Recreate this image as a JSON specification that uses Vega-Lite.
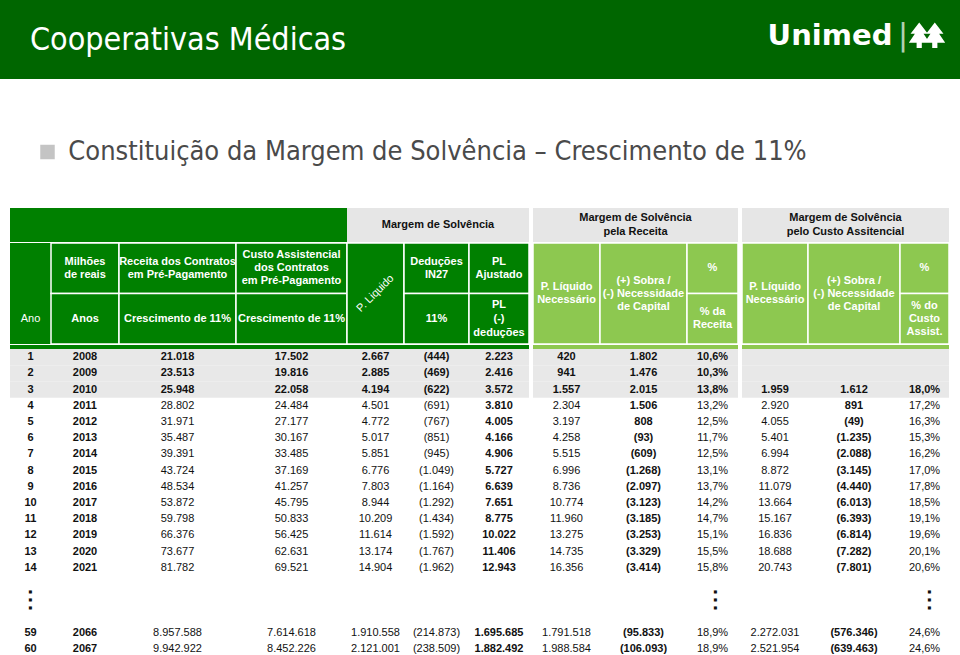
{
"$schema":"https://vega.github.io/schema/vega-lite/v6.json",
"padding":0,
"spacing":0,
"config":{
 "view":{"stroke":null},
 "axis":{"disable":true},
 "concat":{"spacing":0},
 "text":{"font":"Liberation Sans","fontSize":11,"baseline":"middle"},
 "locale":{"number":{"decimal":",","thousands":".","grouping":[3],"currency":["R$ ",""]}}
},
"datasets":{
 "one":[{"u":1}],
 "bc":[{"p":"B"},{"p":"C"}],
 "rows":[
  {"n":"1","ano":"2008","rec":21018,"cus":17502,"pliq":2667,"ded":-444,"pl":2223,"pln":420,"sob":1802,"pr":0.106},
  {"n":"2","ano":"2009","rec":23513,"cus":19816,"pliq":2885,"ded":-469,"pl":2416,"pln":941,"sob":1476,"pr":0.103},
  {"n":"3","ano":"2010","rec":25948,"cus":22058,"pliq":4194,"ded":-622,"pl":3572,"pln":1557,"sob":2015,"pr":0.138,"pln2":1959,"sob2":1612,"pc":0.180},
  {"n":"4","ano":"2011","rec":28802,"cus":24484,"pliq":4501,"ded":-691,"pl":3810,"pln":2304,"sob":1506,"pr":0.132,"pln2":2920,"sob2":891,"pc":0.172},
  {"n":"5","ano":"2012","rec":31971,"cus":27177,"pliq":4772,"ded":-767,"pl":4005,"pln":3197,"sob":808,"pr":0.125,"pln2":4055,"sob2":-49,"pc":0.163},
  {"n":"6","ano":"2013","rec":35487,"cus":30167,"pliq":5017,"ded":-851,"pl":4166,"pln":4258,"sob":-93,"pr":0.117,"pln2":5401,"sob2":-1235,"pc":0.153},
  {"n":"7","ano":"2014","rec":39391,"cus":33485,"pliq":5851,"ded":-945,"pl":4906,"pln":5515,"sob":-609,"pr":0.125,"pln2":6994,"sob2":-2088,"pc":0.162},
  {"n":"8","ano":"2015","rec":43724,"cus":37169,"pliq":6776,"ded":-1049,"pl":5727,"pln":6996,"sob":-1268,"pr":0.131,"pln2":8872,"sob2":-3145,"pc":0.170},
  {"n":"9","ano":"2016","rec":48534,"cus":41257,"pliq":7803,"ded":-1164,"pl":6639,"pln":8736,"sob":-2097,"pr":0.137,"pln2":11079,"sob2":-4440,"pc":0.178},
  {"n":"10","ano":"2017","rec":53872,"cus":45795,"pliq":8944,"ded":-1292,"pl":7651,"pln":10774,"sob":-3123,"pr":0.142,"pln2":13664,"sob2":-6013,"pc":0.185},
  {"n":"11","ano":"2018","rec":59798,"cus":50833,"pliq":10209,"ded":-1434,"pl":8775,"pln":11960,"sob":-3185,"pr":0.147,"pln2":15167,"sob2":-6393,"pc":0.191},
  {"n":"12","ano":"2019","rec":66376,"cus":56425,"pliq":11614,"ded":-1592,"pl":10022,"pln":13275,"sob":-3253,"pr":0.151,"pln2":16836,"sob2":-6814,"pc":0.196},
  {"n":"13","ano":"2020","rec":73677,"cus":62631,"pliq":13174,"ded":-1767,"pl":11406,"pln":14735,"sob":-3329,"pr":0.155,"pln2":18688,"sob2":-7282,"pc":0.201},
  {"n":"14","ano":"2021","rec":81782,"cus":69521,"pliq":14904,"ded":-1962,"pl":12943,"pln":16356,"sob":-3414,"pr":0.158,"pln2":20743,"sob2":-7801,"pc":0.206},
  {"n":"59","ano":"2066","rec":8957588,"cus":7614618,"pliq":1910558,"ded":-214873,"pl":1695685,"pln":1791518,"sob":-95833,"pr":0.189,"pln2":2272031,"sob2":-576346,"pc":0.246},
  {"n":"60","ano":"2067","rec":9942922,"cus":8452226,"pliq":2121001,"ded":-238509,"pl":1882492,"pln":1988584,"sob":-106093,"pr":0.189,"pln2":2521954,"sob2":-639463,"pc":0.246}
 ]
},
"vconcat":[
 {"spacing":0,"bounds":"flush","hconcat":[
  {"width":376,"height":79,"data":{"name":"one"},"layer":[
   {"mark":{"type":"rect","fill":"#006600"},"encoding":{}},
   {"mark":{"type":"text","text":"Cooperativas Médicas","fill":"white","font":"DejaVu Sans Condensed, Liberation Sans Narrow, sans-serif","fontSize":32},"encoding":{}}]},
  {"width":392,"height":79,"data":{"name":"one"},"mark":{"type":"rect","fill":"#006600"},"encoding":{}},
  {"width":124,"height":79,"data":{"name":"one"},"layer":[
   {"mark":{"type":"rect","fill":"#006600"},"encoding":{}},
   {"mark":{"type":"text","text":"Unimed","fill":"white","font":"DejaVu Sans","fontWeight":"bold","fontSize":29,"dy":-4},"encoding":{}}]},
  {"width":6,"height":79,"data":{"name":"one"},"mark":{"type":"rect","fill":"#006600"},"encoding":{}},
  {"width":10,"height":79,"data":{"name":"one"},"layer":[
   {"mark":{"type":"rect","fill":"#006600"},"encoding":{}},
   {"mark":{"type":"text","text":"|","fill":"white","font":"DejaVu Sans","fontSize":30,"opacity":0.7,"dy":-4},"encoding":{}}]},
  {"width":38,"height":79,"data":{"name":"one"},"layer":[
   {"mark":{"type":"rect","fill":"#006600"},"encoding":{}},
   {"mark":{"type":"point","filled":true,"color":"white","opacity":1,"size":1200,"yOffset":-4,"shape":"M -0.45,-0.75 L 0.05,-0.1 L -0.2,-0.1 L 0.15,0.42 L -0.3,0.42 L -0.3,0.72 L -0.6,0.72 L -0.6,0.42 L -1.05,0.42 L -0.7,-0.1 L -0.95,-0.1 Z M 0.45,-0.75 L 0.95,-0.1 L 0.7,-0.1 L 1.05,0.42 L 0.6,0.42 L 0.6,0.72 L 0.3,0.72 L 0.3,0.42 L -0.15,0.42 L 0.2,-0.1 L -0.05,-0.1 Z"},"encoding":{}}]},
  {"width":14,"height":79,"data":{"name":"one"},"mark":{"type":"rect","fill":"#006600"},"encoding":{}}
 ]},
 {"width":960,"height":57,"data":{"name":"one"},"mark":{"type":"rect","fill":"white"},"encoding":{}},
 {"spacing":0,"bounds":"flush","hconcat":[
  {"width":40,"height":32,"data":{"name":"one"},"mark":{"type":"rect","fill":"white"},"encoding":{}},
  {"width":15,"height":32,"data":{"name":"one"},"mark":{"type":"point","shape":"square","filled":true,"color":"#c4c4c4","opacity":1,"size":210},"encoding":{}},
  {"width":765,"height":32,"data":{"name":"one"},"mark":{"type":"text","text":"Constituição da Margem de Solvência  – Crescimento de 11%","fill":"#4a4a4a","font":"DejaVu Sans Condensed, Liberation Sans Narrow, sans-serif","fontSize":27},"encoding":{}},
  {"width":140,"height":32,"data":{"name":"one"},"mark":{"type":"rect","fill":"white"},"encoding":{}}
 ]},
 {"width":960,"height":40,"data":{"name":"one"},"mark":{"type":"rect","fill":"white"},"encoding":{}},
 {"spacing":0,"bounds":"flush","hconcat":[
  {"width":10,"height":34,"data":{"name":"one"},"mark":{"type":"rect","fill":"white"},"encoding":{}},
  {"width":337,"height":34,"data":{"name":"one"},"mark":{"type":"rect","fill":"#008000"},"encoding":{}},
  {"width":182,"height":34,"data":{"name":"one"},"layer":[
   {"mark":{"type":"rect","fill":"#e6e6e6"},"encoding":{}},
   {"mark":{"type":"text","text":"Margem de Solvência","fill":"#111","fontWeight":"bold"},"encoding":{}}]},
  {"width":4,"height":34,"data":{"name":"one"},"mark":{"type":"rect","fill":"white"},"encoding":{}},
  {"width":205,"height":34,"data":{"name":"one"},"layer":[
   {"mark":{"type":"rect","fill":"#e6e6e6"},"encoding":{}},
   {"mark":{"type":"text","text":["Margem de Solvência","pela Receita"],"lineHeight":14,"dy":-7,"fill":"#111","fontWeight":"bold"},"encoding":{}}]},
  {"width":4,"height":34,"data":{"name":"one"},"mark":{"type":"rect","fill":"white"},"encoding":{}},
  {"width":207,"height":34,"data":{"name":"one"},"layer":[
   {"mark":{"type":"rect","fill":"#e6e6e6"},"encoding":{}},
   {"mark":{"type":"text","text":["Margem de Solvência","pelo Custo Assitencial"],"lineHeight":14,"dy":-7,"fill":"#111","fontWeight":"bold"},"encoding":{}}]},
  {"width":11,"height":34,"data":{"name":"one"},"mark":{"type":"rect","fill":"white"},"encoding":{}}
 ]},
 {"spacing":0,"bounds":"flush","hconcat":[
  {"width":10,"height":101,"data":{"name":"one"},"mark":{"type":"rect","fill":"white"},"encoding":{}},
  {"width":41,"height":101,"data":{"name":"one"},"layer":[
   {"mark":{"type":"rect","fill":"#008000"},"encoding":{}},
   {"mark":{"type":"text","text":"Ano","fill":"white"},"encoding":{"y":{"datum":"C","type":"nominal","scale":{"type":"band","domain":["B","C"],"paddingInner":0,"paddingOuter":0}}}}]},
  {"width":68,"height":101,"data":{"name":"bc"},"layer":[
   {"mark":{"type":"rect","fill":"#008000","stroke":"white","strokeWidth":1.5},"encoding":{"y":{"field":"p","type":"nominal","scale":{"type":"band","domain":["B","C"],"paddingInner":0,"paddingOuter":0}}}},
   {"data":{"name":"one"},"mark":{"type":"text","text":["Milhões","de reais"],"lineHeight":13,"dy":-6.5,"fill":"white","fontWeight":"bold"},"encoding":{"y":{"datum":"B","type":"nominal","scale":{"type":"band","domain":["B","C"],"paddingInner":0,"paddingOuter":0}}}},
   {"data":{"name":"one"},"mark":{"type":"text","text":"Anos","fill":"white","fontWeight":"bold"},"encoding":{"y":{"datum":"C","type":"nominal","scale":{"type":"band","domain":["B","C"],"paddingInner":0,"paddingOuter":0}}}}]},
  {"width":117,"height":101,"data":{"name":"bc"},"layer":[
   {"mark":{"type":"rect","fill":"#008000","stroke":"white","strokeWidth":1.5},"encoding":{"y":{"field":"p","type":"nominal","scale":{"type":"band","domain":["B","C"],"paddingInner":0,"paddingOuter":0}}}},
   {"data":{"name":"one"},"mark":{"type":"text","text":["Receita dos Contratos","em Pré-Pagamento"],"lineHeight":13,"dy":-6.5,"fill":"white","fontWeight":"bold"},"encoding":{"y":{"datum":"B","type":"nominal","scale":{"type":"band","domain":["B","C"],"paddingInner":0,"paddingOuter":0}}}},
   {"data":{"name":"one"},"mark":{"type":"text","text":"Crescimento de 11%","fill":"white","fontWeight":"bold"},"encoding":{"y":{"datum":"C","type":"nominal","scale":{"type":"band","domain":["B","C"],"paddingInner":0,"paddingOuter":0}}}}]},
  {"width":111,"height":101,"data":{"name":"bc"},"layer":[
   {"mark":{"type":"rect","fill":"#008000","stroke":"white","strokeWidth":1.5},"encoding":{"y":{"field":"p","type":"nominal","scale":{"type":"band","domain":["B","C"],"paddingInner":0,"paddingOuter":0}}}},
   {"data":{"name":"one"},"mark":{"type":"text","text":["Custo Assistencial","dos Contratos","em Pré-Pagamento"],"lineHeight":13,"dy":-13,"fill":"white","fontWeight":"bold"},"encoding":{"y":{"datum":"B","type":"nominal","scale":{"type":"band","domain":["B","C"],"paddingInner":0,"paddingOuter":0}}}},
   {"data":{"name":"one"},"mark":{"type":"text","text":"Crescimento de 11%","fill":"white","fontWeight":"bold"},"encoding":{"y":{"datum":"C","type":"nominal","scale":{"type":"band","domain":["B","C"],"paddingInner":0,"paddingOuter":0}}}}]},
  {"width":57,"height":101,"data":{"name":"one"},"layer":[
   {"mark":{"type":"rect","fill":"#008000","stroke":"white","strokeWidth":1.5},"encoding":{}},
   {"mark":{"type":"text","text":"P. Liquido","angle":315,"fill":"white"},"encoding":{}}]},
  {"width":65,"height":101,"data":{"name":"bc"},"layer":[
   {"mark":{"type":"rect","fill":"#008000","stroke":"white","strokeWidth":1.5},"encoding":{"y":{"field":"p","type":"nominal","scale":{"type":"band","domain":["B","C"],"paddingInner":0,"paddingOuter":0}}}},
   {"data":{"name":"one"},"mark":{"type":"text","text":["Deduções","IN27"],"lineHeight":13,"dy":-6.5,"fill":"white","fontWeight":"bold"},"encoding":{"y":{"datum":"B","type":"nominal","scale":{"type":"band","domain":["B","C"],"paddingInner":0,"paddingOuter":0}}}},
   {"data":{"name":"one"},"mark":{"type":"text","text":"11%","fill":"white","fontWeight":"bold"},"encoding":{"y":{"datum":"C","type":"nominal","scale":{"type":"band","domain":["B","C"],"paddingInner":0,"paddingOuter":0}}}}]},
  {"width":60,"height":101,"data":{"name":"bc"},"layer":[
   {"mark":{"type":"rect","fill":"#008000","stroke":"white","strokeWidth":1.5},"encoding":{"y":{"field":"p","type":"nominal","scale":{"type":"band","domain":["B","C"],"paddingInner":0,"paddingOuter":0}}}},
   {"data":{"name":"one"},"mark":{"type":"text","text":["PL","Ajustado"],"lineHeight":13,"dy":-6.5,"fill":"white","fontWeight":"bold"},"encoding":{"y":{"datum":"B","type":"nominal","scale":{"type":"band","domain":["B","C"],"paddingInner":0,"paddingOuter":0}}}},
   {"data":{"name":"one"},"mark":{"type":"text","text":["PL","(-)","deduções"],"lineHeight":14,"dy":-14,"fill":"white","fontWeight":"bold"},"encoding":{"y":{"datum":"C","type":"nominal","scale":{"type":"band","domain":["B","C"],"paddingInner":0,"paddingOuter":0}}}}]},
  {"width":4,"height":101,"data":{"name":"one"},"mark":{"type":"rect","fill":"white"},"encoding":{}},
  {"width":67,"height":101,"data":{"name":"one"},"layer":[
   {"mark":{"type":"rect","fill":"#8dc850","stroke":"white","strokeWidth":1.5},"encoding":{}},
   {"mark":{"type":"text","text":["P. Líquido","Necessário"],"lineHeight":13,"dy":-6.5,"fill":"white","fontWeight":"bold"},"encoding":{}}]},
  {"width":87,"height":101,"data":{"name":"one"},"layer":[
   {"mark":{"type":"rect","fill":"#8dc850","stroke":"white","strokeWidth":1.5},"encoding":{}},
   {"mark":{"type":"text","text":["(+) Sobra /","(-) Necessidade","de Capital"],"lineHeight":13,"dy":-13,"fill":"white","fontWeight":"bold"},"encoding":{}}]},
  {"width":51,"height":101,"data":{"name":"bc"},"layer":[
   {"mark":{"type":"rect","fill":"#8dc850","stroke":"white","strokeWidth":1.5},"encoding":{"y":{"field":"p","type":"nominal","scale":{"type":"band","domain":["B","C"],"paddingInner":0,"paddingOuter":0}}}},
   {"data":{"name":"one"},"mark":{"type":"text","text":"%","fill":"white","fontWeight":"bold"},"encoding":{"y":{"datum":"B","type":"nominal","scale":{"type":"band","domain":["B","C"],"paddingInner":0,"paddingOuter":0}}}},
   {"data":{"name":"one"},"mark":{"type":"text","text":["% da","Receita"],"lineHeight":13,"dy":-6.5,"fill":"white","fontWeight":"bold"},"encoding":{"y":{"datum":"C","type":"nominal","scale":{"type":"band","domain":["B","C"],"paddingInner":0,"paddingOuter":0}}}}]},
  {"width":4,"height":101,"data":{"name":"one"},"mark":{"type":"rect","fill":"white"},"encoding":{}},
  {"width":66,"height":101,"data":{"name":"one"},"layer":[
   {"mark":{"type":"rect","fill":"#8dc850","stroke":"white","strokeWidth":1.5},"encoding":{}},
   {"mark":{"type":"text","text":["P. Líquido","Necessário"],"lineHeight":13,"dy":-6.5,"fill":"white","fontWeight":"bold"},"encoding":{}}]},
  {"width":92,"height":101,"data":{"name":"one"},"layer":[
   {"mark":{"type":"rect","fill":"#8dc850","stroke":"white","strokeWidth":1.5},"encoding":{}},
   {"mark":{"type":"text","text":["(+) Sobra /","(-) Necessidade","de Capital"],"lineHeight":13,"dy":-13,"fill":"white","fontWeight":"bold"},"encoding":{}}]},
  {"width":49,"height":101,"data":{"name":"bc"},"layer":[
   {"mark":{"type":"rect","fill":"#8dc850","stroke":"white","strokeWidth":1.5},"encoding":{"y":{"field":"p","type":"nominal","scale":{"type":"band","domain":["B","C"],"paddingInner":0,"paddingOuter":0}}}},
   {"data":{"name":"one"},"mark":{"type":"text","text":"%","fill":"white","fontWeight":"bold"},"encoding":{"y":{"datum":"B","type":"nominal","scale":{"type":"band","domain":["B","C"],"paddingInner":0,"paddingOuter":0}}}},
   {"data":{"name":"one"},"mark":{"type":"text","text":["% do","Custo","Assist."],"lineHeight":13,"dy":-13,"fill":"white","fontWeight":"bold"},"encoding":{"y":{"datum":"C","type":"nominal","scale":{"type":"band","domain":["B","C"],"paddingInner":0,"paddingOuter":0}}}}]},
  {"width":11,"height":101,"data":{"name":"one"},"mark":{"type":"rect","fill":"white"},"encoding":{}}
 ]},
 {"spacing":0,"bounds":"flush","hconcat":[
  {"width":10,"height":4,"data":{"name":"one"},"mark":{"type":"rect","fill":"white"},"encoding":{}},
  {"width":519,"height":4,"data":{"name":"one"},"mark":{"type":"rect","fill":"#008000"},"encoding":{}},
  {"width":4,"height":4,"data":{"name":"one"},"mark":{"type":"rect","fill":"white"},"encoding":{}},
  {"width":205,"height":4,"data":{"name":"one"},"mark":{"type":"rect","fill":"#8dc850"},"encoding":{}},
  {"width":4,"height":4,"data":{"name":"one"},"mark":{"type":"rect","fill":"white"},"encoding":{}},
  {"width":207,"height":4,"data":{"name":"one"},"mark":{"type":"rect","fill":"#8dc850"},"encoding":{}},
  {"width":11,"height":4,"data":{"name":"one"},"mark":{"type":"rect","fill":"white"},"encoding":{}}
 ]},
 {"spacing":0,"bounds":"flush","hconcat":[
  {"width":10,"height":308,"data":{"name":"one"},"mark":{"type":"rect","fill":"white"},"encoding":{}},
  {"width":41,"height":308,"data":{"name":"rows"},"layer":[
   {"transform":[{"filter":"toNumber(datum.n) <= 3"}],"mark":{"type":"rect","fill":"#e8e8e8"},"encoding":{"y":{"field":"n","type":"nominal","scale":{"type":"band","domain":["1","2","3","4","5","6","7","8","9","10","11","12","13","14","g1","g2","g3","59","60"],"paddingInner":0,"paddingOuter":0}}}},
   {"mark":{"type":"text","fontWeight":"bold","fill":"#111"},"encoding":{"y":{"field":"n","type":"nominal","scale":{"type":"band","domain":["1","2","3","4","5","6","7","8","9","10","11","12","13","14","g1","g2","g3","59","60"],"paddingInner":0,"paddingOuter":0}},"text":{"field":"n","type":"nominal"}}},
   {"data":{"values":[{"n":"g2"}]},"mark":{"type":"text","text":["■","■","■"],"font":"DejaVu Sans","fontSize":4,"lineHeight":8,"dy":-8,"fill":"#111"},"encoding":{"y":{"field":"n","type":"nominal","scale":{"type":"band","domain":["1","2","3","4","5","6","7","8","9","10","11","12","13","14","g1","g2","g3","59","60"],"paddingInner":0,"paddingOuter":0}}}}]},
  {"width":68,"height":308,"data":{"name":"rows"},"layer":[
   {"transform":[{"filter":"toNumber(datum.n) <= 3"}],"mark":{"type":"rect","fill":"#e8e8e8"},"encoding":{"y":{"field":"n","type":"nominal","scale":{"type":"band","domain":["1","2","3","4","5","6","7","8","9","10","11","12","13","14","g1","g2","g3","59","60"],"paddingInner":0,"paddingOuter":0}}}},
   {"mark":{"type":"text","fontWeight":"bold","fill":"#111"},"encoding":{"y":{"field":"n","type":"nominal","scale":{"type":"band","domain":["1","2","3","4","5","6","7","8","9","10","11","12","13","14","g1","g2","g3","59","60"],"paddingInner":0,"paddingOuter":0}},"text":{"field":"ano","type":"nominal"}}}]},
  {"width":117,"height":308,"data":{"name":"rows"},"layer":[
   {"transform":[{"filter":"toNumber(datum.n) <= 3"}],"mark":{"type":"rect","fill":"#e8e8e8"},"encoding":{"y":{"field":"n","type":"nominal","scale":{"type":"band","domain":["1","2","3","4","5","6","7","8","9","10","11","12","13","14","g1","g2","g3","59","60"],"paddingInner":0,"paddingOuter":0}}}},
   {"transform":[{"filter":"toNumber(datum.n) <= 3"}],"mark":{"type":"text","fontWeight":"bold","fill":"#111"},"encoding":{"y":{"field":"n","type":"nominal","scale":{"type":"band","domain":["1","2","3","4","5","6","7","8","9","10","11","12","13","14","g1","g2","g3","59","60"],"paddingInner":0,"paddingOuter":0}},"text":{"field":"rec","type":"quantitative","format":"(,.0f"}}},
   {"transform":[{"filter":"toNumber(datum.n) > 3"}],"mark":{"type":"text","fill":"#111"},"encoding":{"y":{"field":"n","type":"nominal","scale":{"type":"band","domain":["1","2","3","4","5","6","7","8","9","10","11","12","13","14","g1","g2","g3","59","60"],"paddingInner":0,"paddingOuter":0}},"text":{"field":"rec","type":"quantitative","format":"(,.0f"}}}]},
  {"width":111,"height":308,"data":{"name":"rows"},"layer":[
   {"transform":[{"filter":"toNumber(datum.n) <= 3"}],"mark":{"type":"rect","fill":"#e8e8e8"},"encoding":{"y":{"field":"n","type":"nominal","scale":{"type":"band","domain":["1","2","3","4","5","6","7","8","9","10","11","12","13","14","g1","g2","g3","59","60"],"paddingInner":0,"paddingOuter":0}}}},
   {"transform":[{"filter":"toNumber(datum.n) <= 3"}],"mark":{"type":"text","fontWeight":"bold","fill":"#111"},"encoding":{"y":{"field":"n","type":"nominal","scale":{"type":"band","domain":["1","2","3","4","5","6","7","8","9","10","11","12","13","14","g1","g2","g3","59","60"],"paddingInner":0,"paddingOuter":0}},"text":{"field":"cus","type":"quantitative","format":"(,.0f"}}},
   {"transform":[{"filter":"toNumber(datum.n) > 3"}],"mark":{"type":"text","fill":"#111"},"encoding":{"y":{"field":"n","type":"nominal","scale":{"type":"band","domain":["1","2","3","4","5","6","7","8","9","10","11","12","13","14","g1","g2","g3","59","60"],"paddingInner":0,"paddingOuter":0}},"text":{"field":"cus","type":"quantitative","format":"(,.0f"}}}]},
  {"width":57,"height":308,"data":{"name":"rows"},"layer":[
   {"transform":[{"filter":"toNumber(datum.n) <= 3"}],"mark":{"type":"rect","fill":"#e8e8e8"},"encoding":{"y":{"field":"n","type":"nominal","scale":{"type":"band","domain":["1","2","3","4","5","6","7","8","9","10","11","12","13","14","g1","g2","g3","59","60"],"paddingInner":0,"paddingOuter":0}}}},
   {"transform":[{"filter":"toNumber(datum.n) <= 3"}],"mark":{"type":"text","fontWeight":"bold","fill":"#111"},"encoding":{"y":{"field":"n","type":"nominal","scale":{"type":"band","domain":["1","2","3","4","5","6","7","8","9","10","11","12","13","14","g1","g2","g3","59","60"],"paddingInner":0,"paddingOuter":0}},"text":{"field":"pliq","type":"quantitative","format":"(,.0f"}}},
   {"transform":[{"filter":"toNumber(datum.n) > 3"}],"mark":{"type":"text","fill":"#111"},"encoding":{"y":{"field":"n","type":"nominal","scale":{"type":"band","domain":["1","2","3","4","5","6","7","8","9","10","11","12","13","14","g1","g2","g3","59","60"],"paddingInner":0,"paddingOuter":0}},"text":{"field":"pliq","type":"quantitative","format":"(,.0f"}}}]},
  {"width":65,"height":308,"data":{"name":"rows"},"layer":[
   {"transform":[{"filter":"toNumber(datum.n) <= 3"}],"mark":{"type":"rect","fill":"#e8e8e8"},"encoding":{"y":{"field":"n","type":"nominal","scale":{"type":"band","domain":["1","2","3","4","5","6","7","8","9","10","11","12","13","14","g1","g2","g3","59","60"],"paddingInner":0,"paddingOuter":0}}}},
   {"transform":[{"filter":"toNumber(datum.n) <= 3"}],"mark":{"type":"text","fontWeight":"bold","fill":"#111"},"encoding":{"y":{"field":"n","type":"nominal","scale":{"type":"band","domain":["1","2","3","4","5","6","7","8","9","10","11","12","13","14","g1","g2","g3","59","60"],"paddingInner":0,"paddingOuter":0}},"text":{"field":"ded","type":"quantitative","format":"(,.0f"}}},
   {"transform":[{"filter":"toNumber(datum.n) > 3"}],"mark":{"type":"text","fill":"#111"},"encoding":{"y":{"field":"n","type":"nominal","scale":{"type":"band","domain":["1","2","3","4","5","6","7","8","9","10","11","12","13","14","g1","g2","g3","59","60"],"paddingInner":0,"paddingOuter":0}},"text":{"field":"ded","type":"quantitative","format":"(,.0f"}}}]},
  {"width":60,"height":308,"data":{"name":"rows"},"layer":[
   {"transform":[{"filter":"toNumber(datum.n) <= 3"}],"mark":{"type":"rect","fill":"#e8e8e8"},"encoding":{"y":{"field":"n","type":"nominal","scale":{"type":"band","domain":["1","2","3","4","5","6","7","8","9","10","11","12","13","14","g1","g2","g3","59","60"],"paddingInner":0,"paddingOuter":0}}}},
   {"mark":{"type":"text","fontWeight":"bold","fill":"#111"},"encoding":{"y":{"field":"n","type":"nominal","scale":{"type":"band","domain":["1","2","3","4","5","6","7","8","9","10","11","12","13","14","g1","g2","g3","59","60"],"paddingInner":0,"paddingOuter":0}},"text":{"field":"pl","type":"quantitative","format":"(,.0f"}}}]},
  {"width":4,"height":308,"data":{"name":"one"},"mark":{"type":"rect","fill":"white"},"encoding":{}},
  {"width":67,"height":308,"data":{"name":"rows"},"layer":[
   {"transform":[{"filter":"toNumber(datum.n) <= 3"}],"mark":{"type":"rect","fill":"#e8e8e8"},"encoding":{"y":{"field":"n","type":"nominal","scale":{"type":"band","domain":["1","2","3","4","5","6","7","8","9","10","11","12","13","14","g1","g2","g3","59","60"],"paddingInner":0,"paddingOuter":0}}}},
   {"transform":[{"filter":"toNumber(datum.n) <= 3"}],"mark":{"type":"text","fontWeight":"bold","fill":"#111"},"encoding":{"y":{"field":"n","type":"nominal","scale":{"type":"band","domain":["1","2","3","4","5","6","7","8","9","10","11","12","13","14","g1","g2","g3","59","60"],"paddingInner":0,"paddingOuter":0}},"text":{"field":"pln","type":"quantitative","format":"(,.0f"}}},
   {"transform":[{"filter":"toNumber(datum.n) > 3"}],"mark":{"type":"text","fill":"#111"},"encoding":{"y":{"field":"n","type":"nominal","scale":{"type":"band","domain":["1","2","3","4","5","6","7","8","9","10","11","12","13","14","g1","g2","g3","59","60"],"paddingInner":0,"paddingOuter":0}},"text":{"field":"pln","type":"quantitative","format":"(,.0f"}}}]},
  {"width":87,"height":308,"data":{"name":"rows"},"layer":[
   {"transform":[{"filter":"toNumber(datum.n) <= 3"}],"mark":{"type":"rect","fill":"#e8e8e8"},"encoding":{"y":{"field":"n","type":"nominal","scale":{"type":"band","domain":["1","2","3","4","5","6","7","8","9","10","11","12","13","14","g1","g2","g3","59","60"],"paddingInner":0,"paddingOuter":0}}}},
   {"mark":{"type":"text","fontWeight":"bold","fill":"#111"},"encoding":{"y":{"field":"n","type":"nominal","scale":{"type":"band","domain":["1","2","3","4","5","6","7","8","9","10","11","12","13","14","g1","g2","g3","59","60"],"paddingInner":0,"paddingOuter":0}},"text":{"field":"sob","type":"quantitative","format":"(,.0f"}}}]},
  {"width":51,"height":308,"data":{"name":"rows"},"layer":[
   {"transform":[{"filter":"toNumber(datum.n) <= 3"}],"mark":{"type":"rect","fill":"#e8e8e8"},"encoding":{"y":{"field":"n","type":"nominal","scale":{"type":"band","domain":["1","2","3","4","5","6","7","8","9","10","11","12","13","14","g1","g2","g3","59","60"],"paddingInner":0,"paddingOuter":0}}}},
   {"transform":[{"filter":"toNumber(datum.n) <= 3"}],"mark":{"type":"text","fontWeight":"bold","fill":"#111"},"encoding":{"y":{"field":"n","type":"nominal","scale":{"type":"band","domain":["1","2","3","4","5","6","7","8","9","10","11","12","13","14","g1","g2","g3","59","60"],"paddingInner":0,"paddingOuter":0}},"text":{"field":"pr","type":"quantitative","format":".1%"}}},
   {"transform":[{"filter":"toNumber(datum.n) > 3"}],"mark":{"type":"text","fill":"#111"},"encoding":{"y":{"field":"n","type":"nominal","scale":{"type":"band","domain":["1","2","3","4","5","6","7","8","9","10","11","12","13","14","g1","g2","g3","59","60"],"paddingInner":0,"paddingOuter":0}},"text":{"field":"pr","type":"quantitative","format":".1%"}}},
   {"data":{"values":[{"n":"g2"}]},"mark":{"type":"text","text":["■","■","■"],"font":"DejaVu Sans","fontSize":4,"lineHeight":8,"dy":-8,"fill":"#111","dx":3},"encoding":{"y":{"field":"n","type":"nominal","scale":{"type":"band","domain":["1","2","3","4","5","6","7","8","9","10","11","12","13","14","g1","g2","g3","59","60"],"paddingInner":0,"paddingOuter":0}}}}]},
  {"width":4,"height":308,"data":{"name":"one"},"mark":{"type":"rect","fill":"white"},"encoding":{}},
  {"width":66,"height":308,"data":{"name":"rows"},"layer":[
   {"transform":[{"filter":"toNumber(datum.n) <= 3"}],"mark":{"type":"rect","fill":"#e8e8e8"},"encoding":{"y":{"field":"n","type":"nominal","scale":{"type":"band","domain":["1","2","3","4","5","6","7","8","9","10","11","12","13","14","g1","g2","g3","59","60"],"paddingInner":0,"paddingOuter":0}}}},
   {"transform":[{"filter":"toNumber(datum.n) <= 3 && isValid(datum.pln2)"}],"mark":{"type":"text","fontWeight":"bold","fill":"#111"},"encoding":{"y":{"field":"n","type":"nominal","scale":{"type":"band","domain":["1","2","3","4","5","6","7","8","9","10","11","12","13","14","g1","g2","g3","59","60"],"paddingInner":0,"paddingOuter":0}},"text":{"field":"pln2","type":"quantitative","format":"(,.0f"}}},
   {"transform":[{"filter":"toNumber(datum.n) > 3"}],"mark":{"type":"text","fill":"#111"},"encoding":{"y":{"field":"n","type":"nominal","scale":{"type":"band","domain":["1","2","3","4","5","6","7","8","9","10","11","12","13","14","g1","g2","g3","59","60"],"paddingInner":0,"paddingOuter":0}},"text":{"field":"pln2","type":"quantitative","format":"(,.0f"}}}]},
  {"width":92,"height":308,"data":{"name":"rows"},"layer":[
   {"transform":[{"filter":"toNumber(datum.n) <= 3"}],"mark":{"type":"rect","fill":"#e8e8e8"},"encoding":{"y":{"field":"n","type":"nominal","scale":{"type":"band","domain":["1","2","3","4","5","6","7","8","9","10","11","12","13","14","g1","g2","g3","59","60"],"paddingInner":0,"paddingOuter":0}}}},
   {"transform":[{"filter":"isValid(datum.sob2)"}],"mark":{"type":"text","fontWeight":"bold","fill":"#111"},"encoding":{"y":{"field":"n","type":"nominal","scale":{"type":"band","domain":["1","2","3","4","5","6","7","8","9","10","11","12","13","14","g1","g2","g3","59","60"],"paddingInner":0,"paddingOuter":0}},"text":{"field":"sob2","type":"quantitative","format":"(,.0f"}}}]},
  {"width":49,"height":308,"data":{"name":"rows"},"layer":[
   {"transform":[{"filter":"toNumber(datum.n) <= 3"}],"mark":{"type":"rect","fill":"#e8e8e8"},"encoding":{"y":{"field":"n","type":"nominal","scale":{"type":"band","domain":["1","2","3","4","5","6","7","8","9","10","11","12","13","14","g1","g2","g3","59","60"],"paddingInner":0,"paddingOuter":0}}}},
   {"transform":[{"filter":"toNumber(datum.n) <= 3 && isValid(datum.pc)"}],"mark":{"type":"text","fontWeight":"bold","fill":"#111"},"encoding":{"y":{"field":"n","type":"nominal","scale":{"type":"band","domain":["1","2","3","4","5","6","7","8","9","10","11","12","13","14","g1","g2","g3","59","60"],"paddingInner":0,"paddingOuter":0}},"text":{"field":"pc","type":"quantitative","format":".1%"}}},
   {"transform":[{"filter":"toNumber(datum.n) > 3"}],"mark":{"type":"text","fill":"#111"},"encoding":{"y":{"field":"n","type":"nominal","scale":{"type":"band","domain":["1","2","3","4","5","6","7","8","9","10","11","12","13","14","g1","g2","g3","59","60"],"paddingInner":0,"paddingOuter":0}},"text":{"field":"pc","type":"quantitative","format":".1%"}}},
   {"data":{"values":[{"n":"g2"}]},"mark":{"type":"text","text":["■","■","■"],"font":"DejaVu Sans","fontSize":4,"lineHeight":8,"dy":-8,"fill":"#111","dx":5},"encoding":{"y":{"field":"n","type":"nominal","scale":{"type":"band","domain":["1","2","3","4","5","6","7","8","9","10","11","12","13","14","g1","g2","g3","59","60"],"paddingInner":0,"paddingOuter":0}}}}]},
  {"width":11,"height":308,"data":{"name":"one"},"mark":{"type":"rect","fill":"white"},"encoding":{}}
 ]}
]
}
